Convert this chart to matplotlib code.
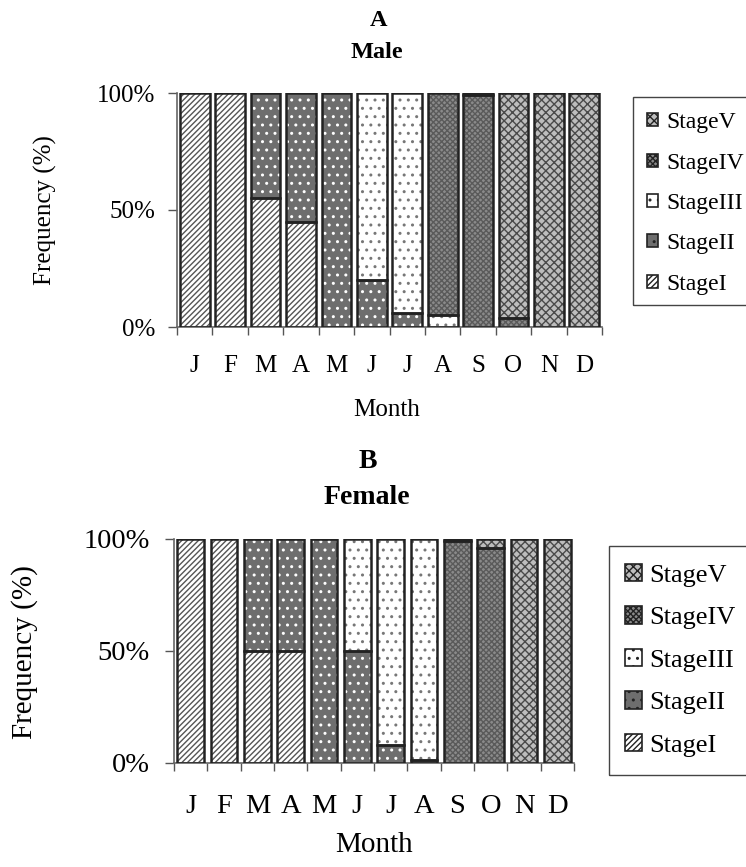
import matplotlib
matplotlib.use("Agg")
import matplotlib.pyplot as plt
import numpy as np
from matplotlib.patches import Patch, Rectangle

months = ["J", "F", "M", "A", "M", "J", "J", "A", "S", "O", "N", "D"]
stages = ["StageI", "StageII", "StageIII", "StageIV", "StageV"]

male_I   = [100, 100, 55, 45, 0, 0, 0, 0, 0, 0, 0, 0]
male_II  = [0, 0, 45, 55, 100, 20, 6, 0, 0, 0, 0, 0]
male_III = [0, 0, 0, 0, 0, 80, 94, 5, 0, 0, 0, 0]
male_IV  = [0, 0, 0, 0, 0, 0, 0, 95, 99, 4, 0, 0]
male_V   = [0, 0, 0, 0, 0, 0, 0, 0, 1, 96, 100, 100]

female_I   = [100, 100, 50, 50, 0, 0, 0, 0, 0, 0, 0, 0]
female_II  = [0, 0, 50, 50, 100, 50, 8, 1.5, 0, 0, 0, 0]
female_III = [0, 0, 0, 0, 0, 50, 92, 98.5, 0, 0, 0, 0]
female_IV  = [0, 0, 0, 0, 0, 0, 0, 0, 99, 96, 0, 0]
female_V   = [0, 0, 0, 0, 0, 0, 0, 0, 1, 4, 100, 100]

yticks = [0, 50, 100]
ytick_labels = ["0%", "50%", "100%"]

# style per stage: facecolor, hatch, hatch color
styles = {
    "StageI":   ("white",   "//////", "#555555"),
    "StageII":  ("#6e6e6e", "..",     "white"),
    "StageIII": ("white",   "..",     "#777777"),
    "StageIV":  ("#8a8a8a", "xxxxxx", "#5a5a5a"),
    "StageV":   ("#bdbdbd", "xxxx",   "#4a4a4a"),
}

plt.rcParams['font.family'] = ['Liberation Serif', 'DejaVu Serif']
plt.rcParams['hatch.linewidth'] = 1.0

fig = plt.figure(figsize=(7.46, 8.67), dpi=100)
W, H = 746, 867


def draw(ax, data, width, fs_tick, xpad, ypad, fs_leg, leg_anchor,
         labelspacing, hlen, htpad, frame_px):
    x = np.arange(len(months))
    bottom = np.zeros(len(months))
    for st, vals in zip(stages, data):
        vals = np.array(vals, dtype=float)
        fc, hatch, hc = styles[st]
        ax.bar(x, vals, width, bottom=bottom, color=fc, hatch=hatch,
               edgecolor=hc, linewidth=0, zorder=2)
        mask = vals > 0
        ax.bar(x[mask], vals[mask], width, bottom=bottom[mask], fill=False,
               edgecolor="#222222", linewidth=1.8, zorder=3)
        bottom += vals
    ax.set_xlim(-0.5, len(months) - 0.5)
    ax.set_ylim(0, 100)
    ax.set_yticks(yticks)
    ax.set_yticklabels(ytick_labels, fontsize=fs_tick)
    ax.set_xticks(np.arange(len(months) + 1) - 0.5)
    ax.set_xticklabels([])
    ax.set_xticks(x, minor=True)
    ax.set_xticklabels(months, minor=True, fontsize=fs_tick)
    ax.tick_params(axis='x', which='minor', length=0, pad=xpad)
    ax.tick_params(axis='x', which='major', length=6, width=1, color="#555555")
    ax.tick_params(axis='y', length=6.5, width=1, color="#555555", pad=ypad)
    for s in ["top", "right"]:
        ax.spines[s].set_visible(False)
    for s in ["left", "bottom"]:
        ax.spines[s].set_color("#666666")
        ax.spines[s].set_linewidth(1.2)
    handles = []
    for st in reversed(stages):
        fc, hatch, hc = styles[st]
        handles.append(Patch(facecolor=fc, hatch=hatch, edgecolor="#222222",
                             linewidth=1.2, label=st))
    fig.legend(handles=handles, loc='upper left', bbox_to_anchor=leg_anchor,
               fontsize=fs_leg, frameon=False,
               handlelength=hlen, handleheight=hlen,
               handletextpad=htpad, labelspacing=labelspacing,
               borderpad=0.6, borderaxespad=0)
    # legend frame, running off the right edge of the figure
    x0, y0, x1, y1 = frame_px
    fig.patches.append(Rectangle((x0 / W, 1 - y1 / H), (x1 - x0) / W,
                                 (y1 - y0) / H, transform=fig.transFigure,
                                 fill=False, edgecolor="#444444", linewidth=1.0))


ax1 = fig.add_axes([177 / W, 1 - 327 / H, 425 / W, 234 / H])
draw(ax1, [male_I, male_II, male_III, male_IV, male_V], 0.84, 18, 20.5, 9.3,
     17, (633 / W, 1 - 98 / H), 0.82, 0.47, 0.35, (633, 97, 770, 305))
fig.text(45 / W, 1 - 210 / H, "Frequency (%)", rotation=90, ha='center',
         va='center', fontsize=18)
fig.text(387 / W, 1 - 410 / H, "Month", ha='center', va='center', fontsize=18)
fig.text(379 / W, 1 - 20 / H, "A", ha='center', va='center', fontsize=17.5,
         fontweight='bold')
fig.text(377 / W, 1 - 52 / H, "Male", ha='center', va='center', fontsize=17.5,
         fontweight='bold')

ax2 = fig.add_axes([174 / W, 1 - 763 / H, 400 / W, 224 / H])
draw(ax2, [female_I, female_II, female_III, female_IV, female_V], 0.8, 20.5,
     22.5, 10.8, 19, (609 / W, 1 - 548 / H), 0.74, 0.64, 0.27,
     (609, 546, 770, 775))
fig.text(25 / W, 1 - 652 / H, "Frequency (%)", rotation=90, ha='center',
         va='center', fontsize=21)
fig.text(374 / W, 1 - 845 / H, "Month", ha='center', va='center', fontsize=21)
fig.text(368 / W, 1 - 462 / H, "B", ha='center', va='center', fontsize=20,
         fontweight='bold')
fig.text(367 / W, 1 - 498 / H, "Female", ha='center', va='center', fontsize=20,
         fontweight='bold')

fig.savefig("out.png", dpi=100)
